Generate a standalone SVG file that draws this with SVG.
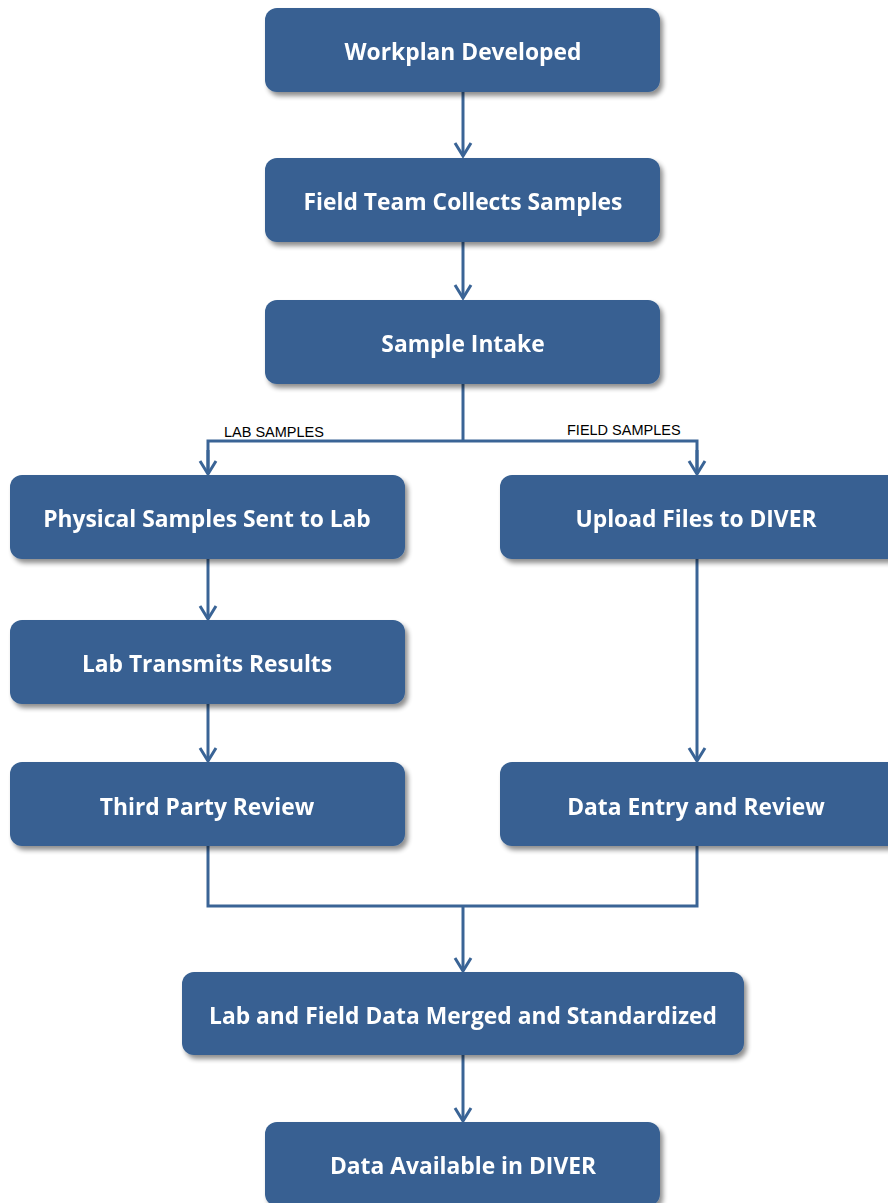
<svg xmlns="http://www.w3.org/2000/svg" width="888" height="1203" viewBox="0 0 888 1203">
<style>
.box{fill:#376092;}
.t{font-family:"Open Sans",Lato,sans-serif;font-weight:bold;font-size:22.8px;fill:#fff;text-anchor:middle;dominant-baseline:central;}
.lbl{font-family:"Liberation Sans",Arial,sans-serif;font-size:14.5px;fill:#000;}
.c{fill:none;stroke:#3a6496;stroke-width:3;}
</style>
<defs>
<filter id="sh" x="-10%" y="-20%" width="130%" height="160%">
<feGaussianBlur in="SourceAlpha" stdDeviation="2.5"/>
<feOffset dx="3" dy="4" result="b"/>
<feComponentTransfer><feFuncA type="linear" slope="0.45"/></feComponentTransfer>
<feMerge><feMergeNode/><feMergeNode in="SourceGraphic"/></feMerge>
</filter>
<marker id="arr" viewBox="0 0 20 20" refX="18" refY="10" markerWidth="20" markerHeight="20" markerUnits="userSpaceOnUse" orient="auto">
<path d="M5,2 L18,10 L5,18" fill="none" stroke="#3a6496" stroke-width="3"/>
</marker>
</defs>
<rect width="888" height="1203" fill="#fff"/>
<g id="connectors">
<path class="c" d="M463,92 V156" marker-end="url(#arr)"/>
<path class="c" d="M463,242 V298" marker-end="url(#arr)"/>
<path class="c" d="M463,384 V441"/>
<path class="c" d="M208,474 V441 H697 V474" />
<path class="c" d="M208,450 V474" marker-end="url(#arr)"/>
<path class="c" d="M697,450 V474" marker-end="url(#arr)"/>
<path class="c" d="M208,559 V619" marker-end="url(#arr)"/>
<path class="c" d="M208,704 V761" marker-end="url(#arr)"/>
<path class="c" d="M697,559 V761" marker-end="url(#arr)"/>
<path class="c" d="M208,846 V906 H697 V846"/>
<path class="c" d="M463,906 V971" marker-end="url(#arr)"/>
<path class="c" d="M463,1055 V1121" marker-end="url(#arr)"/>
</g>
<text class="lbl" x="224" y="437">LAB SAMPLES</text>
<text class="lbl" x="567" y="435">FIELD SAMPLES</text>
<g id="n1" filter="url(#sh)"><rect class="box" x="265" y="8" width="395" height="84" rx="12"/><text class="t" x="463" y="51">Workplan Developed</text></g>
<g id="n2" filter="url(#sh)"><rect class="box" x="265" y="158" width="395" height="84" rx="12"/><text class="t" x="463" y="201">Field Team Collects Samples</text></g>
<g id="n3" filter="url(#sh)"><rect class="box" x="265" y="300" width="395" height="84" rx="12"/><text class="t" x="463" y="343">Sample Intake</text></g>
<g id="n4" filter="url(#sh)"><rect class="box" x="10" y="475" width="395" height="84" rx="12"/><text class="t" x="207" y="518">Physical Samples Sent to Lab</text></g>
<g id="n5" filter="url(#sh)"><rect class="box" x="500" y="475" width="400" height="84" rx="12"/><text class="t" x="696" y="518">Upload Files to DIVER</text></g>
<g id="n6" filter="url(#sh)"><rect class="box" x="10" y="620" width="395" height="84" rx="12"/><text class="t" x="207" y="663">Lab Transmits Results</text></g>
<g id="n7" filter="url(#sh)"><rect class="box" x="10" y="762" width="395" height="84" rx="12"/><text class="t" x="207" y="806">Third Party Review</text></g>
<g id="n8" filter="url(#sh)"><rect class="box" x="500" y="762" width="400" height="84" rx="12"/><text class="t" x="696" y="806">Data Entry and Review</text></g>
<g id="n9" filter="url(#sh)"><rect class="box" x="182" y="972" width="562" height="83" rx="12"/><text class="t" x="463" y="1015">Lab and Field Data Merged and Standardized</text></g>
<g id="n10" filter="url(#sh)"><rect class="box" x="265" y="1122" width="395" height="84" rx="12"/><text class="t" x="463" y="1165">Data Available in DIVER</text></g>
</svg>
